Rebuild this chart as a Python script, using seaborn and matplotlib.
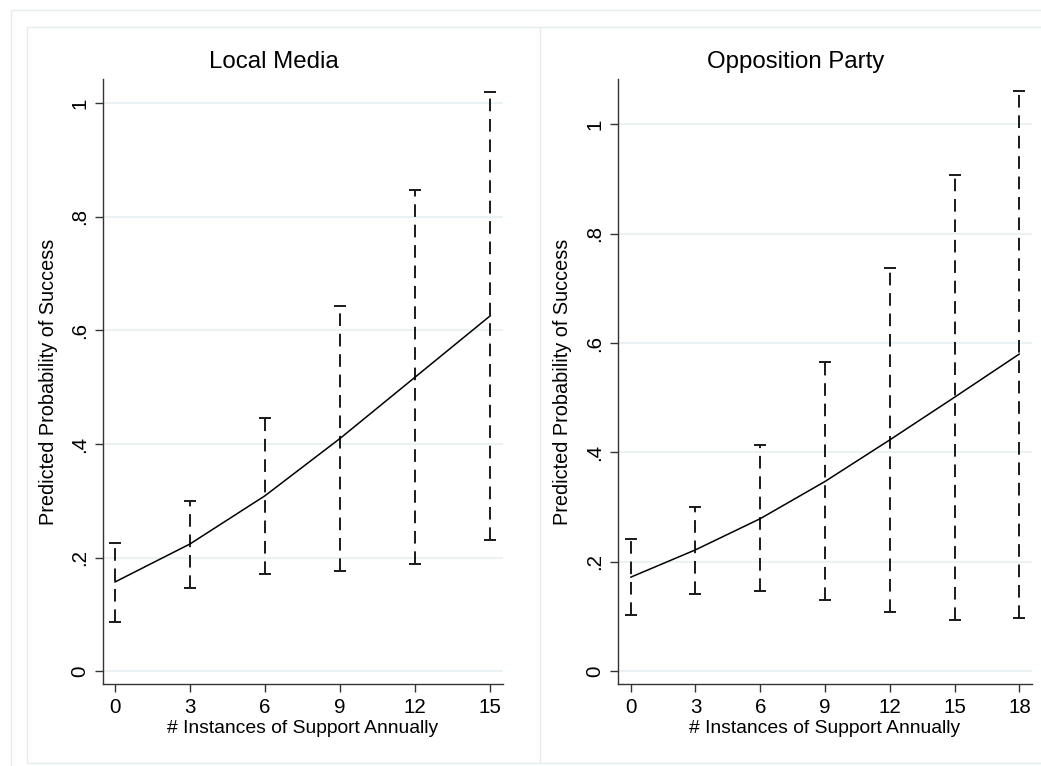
import matplotlib
matplotlib.use("Agg")
import matplotlib.pyplot as plt
from matplotlib.patches import Rectangle
from matplotlib.lines import Line2D
import numpy as np
import pandas as pd
import seaborn as sns

# Predicted probabilities with 95% confidence bounds
media_x = [0, 3, 6, 9, 12, 15]
media_pred = [0.157, 0.224, 0.309, 0.410, 0.518, 0.626]
media_lo = [0.087, 0.147, 0.172, 0.177, 0.189, 0.231]
media_hi = [0.225, 0.300, 0.446, 0.643, 0.847, 1.020]

party_x = [0, 3, 6, 9, 12, 15, 18]
party_pred = [0.172, 0.222, 0.279, 0.347, 0.423, 0.501, 0.580]
party_lo = [0.102, 0.142, 0.147, 0.131, 0.108, 0.094, 0.098]
party_hi = [0.241, 0.300, 0.413, 0.565, 0.737, 0.908, 1.061]

panel_titles = ["Local Media", "Opposition Party"]
y_ticks = [0, 0.2, 0.4, 0.6, 0.8, 1.0]
y_tick_labels = ["0", ".2", ".4", ".6", ".8", "1"]
x_label = "# Instances of Support Annually"
y_label = "Predicted Probability of Success"

sns.set_theme(style="white")
plt.rcParams["font.family"] = ["Liberation Sans", "DejaVu Sans"]
plt.rcParams["text.color"] = "black"
plt.rcParams["axes.labelcolor"] = "black"
plt.rcParams["xtick.color"] = "black"
plt.rcParams["ytick.color"] = "black"

GRID = "#e8f0f1"
FRAME = "#e4eced"

fig = plt.figure(figsize=(10.41, 7.66), dpi=100)
W, H = 1041, 766


def fx(px):
    return px / W


def fy(py):
    return 1 - py / H


# graph region frames
fig.patches.append(Rectangle((fx(11), fy(790)), fx(1100), fy(10) - fy(790),
                             transform=fig.transFigure, fill=False,
                             edgecolor=FRAME, lw=1.0))
fig.patches.append(Rectangle((fx(27), fy(763)), fx(1100), fy(27) - fy(763),
                             transform=fig.transFigure, fill=False,
                             edgecolor=FRAME, lw=1.0))
fig.lines.append(Line2D([fx(540), fx(540)], [fy(27), fy(763)],
                        transform=fig.transFigure, color=FRAME, lw=1.0))

panels = [
    dict(x=media_x, pred=media_pred, lo=media_lo, hi=media_hi,
         rect=[fx(103), fy(684), fx(502.7) - fx(103), fy(79.3) - fy(684)],
         xlim=(-0.47, 15.49), ylim=(-0.0224, 1.042), title_x=274,
         ylab_x=-0.1126),
    dict(x=party_x, pred=party_pred, lo=party_lo, hi=party_hi,
         rect=[fx(618.3), fy(684), fx(1031.7) - fx(618.3), fy(79.3) - fy(684)],
         xlim=(-0.574, 18.57), ylim=(-0.0232, 1.082), title_x=796,
         ylab_x=-0.112),
]

for title, p in zip(panel_titles, panels):
    ax = fig.add_axes(p["rect"])
    df = pd.DataFrame({"x": p["x"], "pred": p["pred"],
                       "lo": p["lo"], "hi": p["hi"]})

    # gridlines at the y ticks
    for t in y_ticks:
        ax.axhline(t, color=GRID, lw=1.2, zorder=0)

    # confidence interval caps, dashed spikes
    eb = ax.errorbar(df["x"], df["pred"],
                     yerr=[df["pred"] - df["lo"], df["hi"] - df["pred"]],
                     fmt="none", ecolor="#1a1a1a", elinewidth=1.4,
                     capsize=4.5, capthick=1.4, zorder=2)
    for coll in eb[2]:
        coll.set_linestyle((0, (6.5, 4.0)))

    sns.lineplot(data=df, x="x", y="pred", ax=ax, color="black",
                 linewidth=1.1, zorder=3)

    ax.set_xlim(*p["xlim"])
    ax.set_ylim(*p["ylim"])
    ax.set_xticks(p["x"])
    ax.set_xticklabels([str(v) for v in p["x"]], fontsize=14.8)
    ax.set_yticks(y_ticks)
    ax.set_yticklabels(y_tick_labels, fontsize=14.8, rotation=90, va="center")
    ax.tick_params(axis="both", which="major", direction="out", length=6,
                   width=1.0, color="#333333", labelcolor="black",
                   left=True, bottom=True, pad=4)
    ax.set_xlabel(x_label, fontsize=13.9, labelpad=2, color="black")
    ax.set_ylabel(y_label, fontsize=14.3, color="black")
    ax.yaxis.set_label_coords(p["ylab_x"], 0.5)

    for side in ["top", "right"]:
        ax.spines[side].set_visible(False)
    for side in ["left", "bottom"]:
        ax.spines[side].set_color("#333333")
        ax.spines[side].set_linewidth(1.0)
    ax.set_facecolor("white")

    fig.text(fx(p["title_x"]), fy(62), title, ha="center", va="center",
             fontsize=17.3, color="black")

fig.savefig("out.png", dpi=100, facecolor="white")
